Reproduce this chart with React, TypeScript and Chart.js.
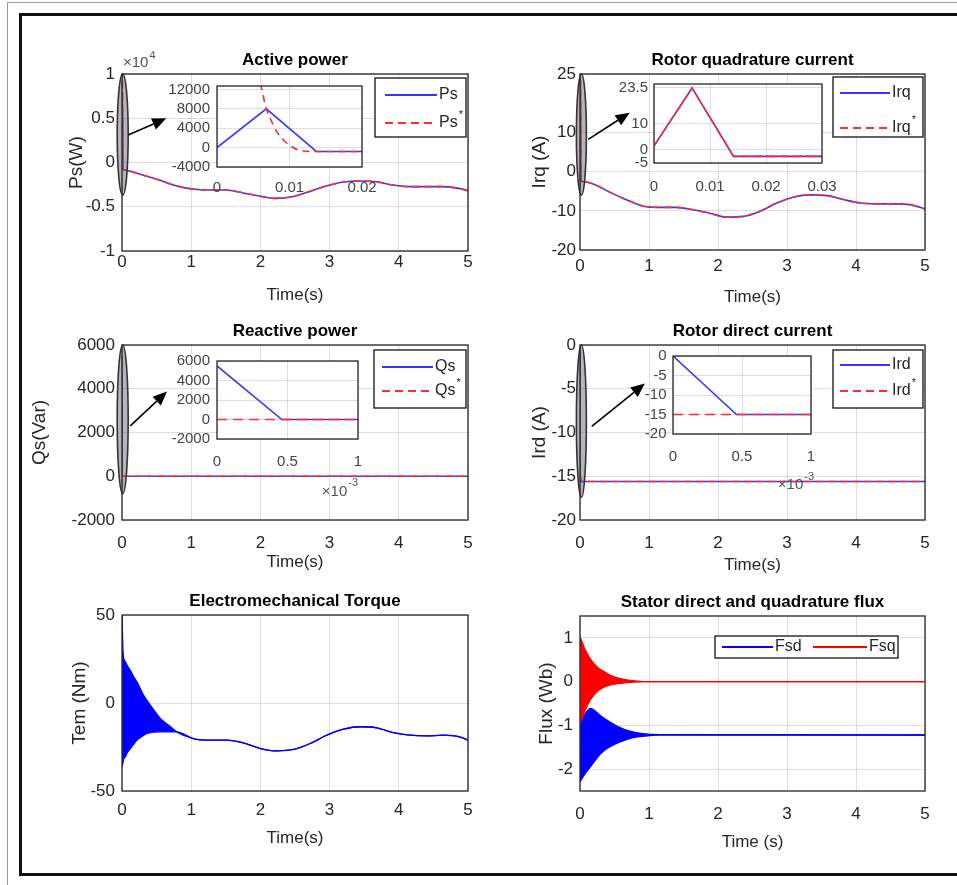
import React, { useEffect, useRef } from "react";
import { Chart, registerables } from "chart.js";

Chart.register(...registerables);

const FONT = "'Liberation Sans', Arial, Helvetica, sans-serif";
Chart.defaults.font.family = FONT;

const BLUE = "rgb(55,55,250)";
const RED = "rgb(255,45,45)";
const BAND_BLUE = "#0000ff";
const BAND_RED = "#ff0000";
const GRID = "rgba(0,0,0,0.13)";
const INK = "#262626";

// ---------- tick labels ----------
const timeTicks = [0, 1, 2, 3, 4, 5];
const psTicks = [-10000, -5000, 0, 5000, 10000];
const irqTicks = [-20, -10, 0, 10, 25];
const qsTicks = [-2000, 0, 2000, 4000, 6000];
const irdTicks = [-20, -15, -10, -5, 0];
const temTicks = [-50, 0, 50];
const fluxTicks = [-2, -1, 0, 1];
const psZoomXTicks = [0, 0.01, 0.02];
const psZoomYTicks = [-4000, 0, 4000, 8000, 12000];
const irqZoomXTicks = [0, 0.01, 0.02, 0.03];
const irqZoomYTicks = [-5, 0, 10, 23.5];
const msXTicks = [0, 0.0005, 0.001];
const qsZoomYTicks = [-2000, 0, 2000, 4000, 6000];
const irdZoomYTicks = [-20, -15, -10, -5, 0];

// ---------- Active power Ps (W) ----------
const psStartT = [0, 0.0068, 0.0137, 0.02];
const psStart = [0, 8000, -800, -800];
const psRefStartT = [0, 0.0055, 0.0061, 0.0068, 0.0075, 0.0082, 0.0095, 0.0113, 0.0137, 0.02];
const psRefStart = [20000, 16000, 12500, 8000, 5500, 3400, 1100, -500, -800, -800];
const psSlowT = [0.05, 0.3, 0.54, 0.78, 1.02, 1.26, 1.5, 1.74, 1.98, 2.22, 2.46, 2.7, 2.95, 3.18, 3.43, 3.67, 3.91, 4.15, 4.39, 4.63, 4.87, 5.0];
const psSlow = [-850, -1410, -1980, -2620, -3000, -3110, -3110, -3410, -3790, -4050, -3860, -3300, -2660, -2240, -2090, -2170, -2540, -2730, -2730, -2730, -2920, -3190];

// ---------- Rotor quadrature current Irq (A) ----------
const irqStartT = [0, 0.0068, 0.0142, 0.03];
const irqStart = [1.5, 23.5, -2.5, -2.5];
const irqRefStart = [1.5, 23.5, -2.5, -2.5];
const irqSlowT = [0.19, 0.43, 0.68, 0.92, 1.16, 1.4, 1.64, 1.88, 2.13, 2.37, 2.61, 2.85, 3.09, 3.33, 3.58, 3.82, 4.06, 4.3, 4.54, 4.78, 5.0];
const irqSlow = [-3.1, -5.2, -7.2, -8.8, -9.1, -9.1, -9.7, -10.6, -11.6, -11.4, -10.1, -8.0, -6.5, -5.9, -6.1, -7.1, -8.0, -8.2, -8.2, -8.4, -9.5];

// ---------- Reactive power Qs (Var) ----------
const qsStartT = [0, 0.00046, 0.001];
const qsStart = [5500, 0, 0];
const qsRefStart = [0, 0, 0];
const qsSlowT = [0.02, 5];
const qsSlow = [0, 0];

// ---------- Rotor direct current Ird (A) ----------
const irdStartT = [0, 0.00046, 0.001];
const irdStart = [0, -15, -15];
const irdRefStart = [-15, -15, -15];
const irdSlowT = [0.02, 5];
const irdSlow = [-15.6, -15.6];

// ---------- Electromechanical torque Tem (Nm) ----------
const temBandT = [0, 0.014, 0.024, 0.048, 0.072, 0.12, 0.168, 0.216, 0.31, 0.36, 0.46, 0.55, 0.7, 0.79];
const temUpper = [50, 30, 25.4, 23.5, 21.6, 18.5, 15.0, 12.0, 4.5, 1.5, -4.0, -8.7, -13.5, -16.4];
const temLower = [-36.3, -34, -32, -30.6, -28.5, -25.9, -23.5, -21.1, -18.5, -17.3, -16.6, -16.4, -16.4, -16.4];
const temT = [1.03, 1.27, 1.51, 1.75, 2.0, 2.24, 2.48, 2.72, 2.96, 3.2, 3.44, 3.68, 3.92, 4.16, 4.4, 4.64, 4.88, 5.0];
const tem = [-20.2, -21.1, -21.1, -22.6, -25.9, -27.2, -26.4, -23.0, -18.3, -14.9, -13.5, -14.1, -16.8, -18.3, -18.7, -18.3, -19.2, -21.1];

// ---------- Stator flux (Wb) ----------
const fluxT = [0, 0.077, 0.15, 0.22, 0.29, 0.39, 0.43, 0.58, 0.72, 0.91, 1.15, 5.0];
const fsqUpper = [1.03, 0.72, 0.52, 0.38, 0.28, 0.19, 0.15, 0.07, 0.03, 0, 0, 0];
const fsqLower = [-0.96, -0.65, -0.42, -0.27, -0.18, -0.1, -0.08, -0.04, -0.02, 0, 0, 0];
const fsdUpper = [-0.96, -0.73, -0.61, -0.67, -0.77, -0.88, -0.92, -1.05, -1.13, -1.19, -1.21, -1.22];
const fsdLower = [-2.29, -2.1, -1.95, -1.8, -1.66, -1.53, -1.49, -1.38, -1.3, -1.25, -1.22, -1.22];

// ---------- helpers ----------
const pts = (t: number[], v: number[]) => t.map((x, i) => ({ x, y: v[i] }));

const solid = (label: string, data: any[], extra: any = {}) => ({
  label, data, borderColor: BLUE, backgroundColor: BLUE, borderWidth: 1.6,
  pointRadius: 0, fill: false, order: 2, ...extra,
});
const dashed = (label: string, data: any[], extra: any = {}) => ({
  label, data, borderColor: RED, backgroundColor: RED, borderWidth: 1.6,
  borderDash: [7, 5], pointRadius: 0, fill: false, order: 1, ...extra,
});
const smooth = { cubicInterpolationMode: "monotone" };

type LegendItem = { label: string; sup?: string; color: string; dash?: number[]; y: number; x0: number; x1: number; tx: number };
type Decor = {
  whiteBg?: boolean;
  ellipse?: { t: number; yMin: number; yMax: number; rx: number };
  arrow?: { from: [number, number]; to: [number, number] };
  legend?: { rOff: number; tOff: number; w: number; h: number; items: LegendItem[] };
  exponent?: { exp: string; corner: "tl" | "br"; dx: number; dy: number; supDy: number };
};

function decorPlugin(d: Decor) {
  return {
    id: "decor",
    beforeDraw(chart: any) {
      if (!d.whiteBg) return;
      const { ctx, chartArea: a } = chart;
      ctx.save();
      ctx.fillStyle = "#fff";
      ctx.fillRect(a.left, a.top, a.right - a.left, a.bottom - a.top);
      ctx.restore();
    },
    afterDatasetsDraw(chart: any) {
      const ctx = chart.ctx;
      const xs = chart.scales.x, ys = chart.scales.y;
      if (d.ellipse) {
        const e = d.ellipse;
        const cx = xs.getPixelForValue(e.t);
        const y1 = ys.getPixelForValue(e.yMax), y2 = ys.getPixelForValue(e.yMin);
        ctx.save();
        ctx.beginPath();
        ctx.ellipse(cx, (y1 + y2) / 2, e.rx, Math.abs(y2 - y1) / 2, 0, 0, Math.PI * 2);
        ctx.fillStyle = "rgba(80,80,80,0.42)";
        ctx.fill();
        ctx.lineWidth = 1.6;
        ctx.strokeStyle = "#333";
        ctx.stroke();
        ctx.restore();
      }
      if (d.arrow) {
        const x0 = xs.getPixelForValue(d.arrow.from[0]), y0 = ys.getPixelForValue(d.arrow.from[1]);
        const x1 = xs.getPixelForValue(d.arrow.to[0]), y1 = ys.getPixelForValue(d.arrow.to[1]);
        const ang = Math.atan2(y1 - y0, x1 - x0);
        const hl = 14, hw = 6;
        const bx = x1 - hl * Math.cos(ang), by = y1 - hl * Math.sin(ang);
        ctx.save();
        ctx.strokeStyle = "#000";
        ctx.fillStyle = "#000";
        ctx.lineWidth = 1.6;
        ctx.beginPath();
        ctx.moveTo(x0, y0);
        ctx.lineTo(bx, by);
        ctx.stroke();
        ctx.beginPath();
        ctx.moveTo(x1, y1);
        ctx.lineTo(bx + hw * Math.sin(ang), by - hw * Math.cos(ang));
        ctx.lineTo(bx - hw * Math.sin(ang), by + hw * Math.cos(ang));
        ctx.closePath();
        ctx.fill();
        ctx.restore();
      }
    },
    afterDraw(chart: any) {
      const { ctx, chartArea: a } = chart;
      ctx.save();
      ctx.strokeStyle = INK;
      ctx.lineWidth = 1.3;
      ctx.strokeRect(a.left, a.top, a.right - a.left, a.bottom - a.top);
      ctx.restore();
      if (d.legend) {
        const L = d.legend;
        const bx = a.right - L.rOff - L.w, by = a.top + L.tOff;
        ctx.save();
        ctx.fillStyle = "#fff";
        ctx.fillRect(bx, by, L.w, L.h);
        ctx.strokeStyle = "#111";
        ctx.lineWidth = 1.3;
        ctx.strokeRect(bx, by, L.w, L.h);
        for (const it of L.items) {
          ctx.beginPath();
          ctx.setLineDash(it.dash || []);
          ctx.strokeStyle = it.color;
          ctx.lineWidth = 2;
          ctx.moveTo(bx + it.x0, by + it.y);
          ctx.lineTo(bx + it.x1, by + it.y);
          ctx.stroke();
          ctx.setLineDash([]);
          ctx.fillStyle = INK;
          ctx.font = `16px ${FONT}`;
          ctx.textBaseline = "middle";
          ctx.textAlign = "left";
          ctx.fillText(it.label, bx + it.tx, by + it.y);
          if (it.sup) {
            const w = ctx.measureText(it.label).width;
            ctx.font = `11px ${FONT}`;
            ctx.fillText(it.sup, bx + it.tx + w + 1, by + it.y - 8);
          }
        }
        ctx.restore();
      }
      if (d.exponent) {
        const e = d.exponent;
        ctx.save();
        ctx.fillStyle = "#555";
        ctx.textBaseline = "middle";
        ctx.textAlign = "left";
        ctx.font = `15px ${FONT}`;
        const base = "\u00d710";
        const wb = ctx.measureText(base).width;
        ctx.font = `11px ${FONT}`;
        const ws = ctx.measureText(e.exp).width;
        let x: number, y0: number;
        if (e.corner === "tl") { x = a.left + e.dx; y0 = a.top; }
        else { x = a.right + e.dx - (wb + 1 + ws); y0 = a.bottom; }
        ctx.font = `15px ${FONT}`;
        ctx.fillText(base, x, y0 + e.dy);
        ctx.font = `11px ${FONT}`;
        ctx.fillText(e.exp, x + wb + 1, y0 + e.supDy);
        ctx.restore();
      }
    },
  };
}

type Spec = {
  L: number; T: number; R: number; B: number; W: number; H: number; pt: number; rp: number;
  title?: string; xTitle?: string; yTitle?: string;
  xMin: number; xMax: number; xTicks: number[]; xFmt?: (v: number) => string;
  yMin: number; yMax: number; yTicks: number[]; yFmt?: (v: number) => string;
  tickSize: number; xPad: number; yPad: number; tickColor: string;
  datasets: any[]; decor: Decor;
};

function build(s: Spec) {
  const titleH = s.title ? 22 : 0;
  const geom = {
    x: s.L - s.W,
    y: s.T - s.pt - titleH,
    w: s.W + (s.R - s.L) + s.rp,
    h: s.pt + titleH + (s.B - s.T) + s.H,
  };
  const tickFont = { size: s.tickSize, family: FONT, lineHeight: 1 };
  const config: any = {
    type: "line",
    data: { datasets: s.datasets },
    options: {
      responsive: false,
      animation: false,
      events: [],
      layout: { padding: { top: s.pt, right: s.rp, bottom: 0, left: 0 } },
      plugins: {
        legend: { display: false },
        tooltip: { enabled: false },
        title: s.title
          ? { display: true, text: s.title, fullSize: false, color: "#000", font: { size: 17, weight: "bold", family: FONT, lineHeight: 1 }, padding: { top: 0, bottom: 5 } }
          : { display: false },
      },
      scales: {
        x: {
          type: "linear", min: s.xMin, max: s.xMax,
          afterBuildTicks: (sc: any) => { sc.ticks = s.xTicks.map((v) => ({ value: v })); },
          afterFit: (sc: any) => { sc.height = s.H; },
          ticks: {
            autoSkip: false, maxRotation: 0, minRotation: 0, padding: s.xPad, color: s.tickColor, font: tickFont,
            callback: (v: any) => (s.xFmt ? s.xFmt(Number(v)) : String(v)),
          },
          grid: { color: GRID, drawTicks: false, lineWidth: 1 },
          border: { display: false },
          title: s.xTitle
            ? { display: true, text: s.xTitle, color: INK, font: { size: 17, family: FONT, lineHeight: 1 }, padding: 0 }
            : { display: false },
        },
        y: {
          type: "linear", min: s.yMin, max: s.yMax,
          afterBuildTicks: (sc: any) => { sc.ticks = s.yTicks.map((v) => ({ value: v })); },
          afterFit: (sc: any) => { sc.width = s.W; },
          ticks: {
            autoSkip: false, padding: s.yPad, color: s.tickColor, font: tickFont,
            callback: (v: any) => (s.yFmt ? s.yFmt(Number(v)) : String(v)),
          },
          grid: { color: GRID, drawTicks: false, lineWidth: 1 },
          border: { display: false },
          title: s.yTitle
            ? { display: true, text: s.yTitle, color: INK, font: { size: 19, family: FONT, lineHeight: 1 }, padding: 0 }
            : { display: false },
        },
      },
    },
    plugins: [decorPlugin(s.decor)],
  };
  return { geom, config };
}

const mainBase = { pt: 4, rp: 45, tickSize: 17, tickColor: INK, xMin: 0, xMax: 5, xTicks: timeTicks, xTitle: "Time(s)" };
const insetBase = { pt: 24, rp: 45, tickSize: 15, tickColor: "#444" };
const msFmt = (v: number) => String(Math.round(v * 10000) / 10);

const specs: Spec[] = [
  // Active power
  {
    ...mainBase, L: 122, T: 74, R: 468, B: 251, W: 55, H: 53, xPad: 3, yPad: 7,
    title: "Active power", yTitle: "Ps(W)",
    yMin: -10000, yMax: 10000, yTicks: psTicks, yFmt: (v) => String(v / 10000),
    datasets: [
      solid("Ps", pts([...psStartT, ...psSlowT], [...psStart, ...psSlow]), smooth),
      dashed("Ps*", pts([...psRefStartT, ...psSlowT], [...psRefStart, ...psSlow]), smooth),
    ],
    decor: {
      ellipse: { t: 0.01, yMin: -3700, yMax: 10000, rx: 5.5 },
      arrow: { from: [0.09, 3100], to: [0.64, 5000] },
      exponent: { exp: "4", corner: "tl", dx: 1, dy: -11.5, supDy: -18 },
      legend: {
        rOff: 2, tOff: 4, w: 91, h: 59,
        items: [
          { label: "Ps", color: BLUE, y: 17, x0: 10, x1: 62, tx: 64 },
          { label: "Ps", sup: "*", color: RED, dash: [8, 5], y: 45, x0: 10, x1: 62, tx: 64 },
        ],
      },
    },
  },
  // Rotor quadrature current
  {
    ...mainBase, L: 580, T: 74, R: 925, B: 250, W: 50, H: 56, xPad: 8, yPad: 4,
    title: "Rotor quadrature current", yTitle: "Irq (A)",
    yMin: -20, yMax: 25, yTicks: irqTicks,
    datasets: [
      solid("Irq", pts([...irqStartT, ...irqSlowT], [...irqStart, ...irqSlow]), smooth),
      dashed("Irq*", pts([...irqStartT, ...irqSlowT], [...irqRefStart, ...irqSlow]), smooth),
    ],
    decor: {
      ellipse: { t: 0.02, yMin: -6, yMax: 25, rx: 5 },
      arrow: { from: [0.12, 8.3], to: [0.72, 15.1] },
      legend: {
        rOff: 2, tOff: 3, w: 90, h: 60,
        items: [
          { label: "Irq", color: BLUE, y: 16, x0: 7, x1: 57, tx: 59 },
          { label: "Irq", sup: "*", color: RED, dash: [8, 5], y: 51, x0: 7, x1: 57, tx: 59 },
        ],
      },
    },
  },
  // Reactive power
  {
    ...mainBase, L: 122, T: 345, R: 468, B: 520, W: 92, H: 51, xPad: 14.5, yPad: 7,
    title: "Reactive power", yTitle: "Qs(Var)",
    yMin: -2000, yMax: 6000, yTicks: qsTicks,
    datasets: [
      solid("Qs", pts([...qsStartT, ...qsSlowT], [...qsStart, ...qsSlow])),
      dashed("Qs*", pts([...qsStartT, ...qsSlowT], [...qsRefStart, ...qsSlow])),
    ],
    decor: {
      ellipse: { t: 0.01, yMin: -800, yMax: 6000, rx: 5.5 },
      arrow: { from: [0.12, 2300], to: [0.65, 3870] },
      legend: {
        rOff: 2, tOff: 5, w: 92, h: 58,
        items: [
          { label: "Qs", color: BLUE, y: 17, x0: 8, x1: 59, tx: 61 },
          { label: "Qs", sup: "*", color: RED, dash: [8, 5], y: 41, x0: 8, x1: 59, tx: 61 },
        ],
      },
    },
  },
  // Rotor direct current
  {
    ...mainBase, L: 580, T: 345, R: 925, B: 520, W: 50, H: 54, xPad: 14.5, yPad: 4,
    title: "Rotor direct current", yTitle: "Ird (A)",
    yMin: -20, yMax: 0, yTicks: irdTicks,
    datasets: [
      solid("Ird", pts([...irdStartT, ...irdSlowT], [...irdStart, ...irdSlow])),
      dashed("Ird*", pts([...irdStartT, ...irdSlowT], [...irdRefStart, ...irdSlow])),
    ],
    decor: {
      ellipse: { t: 0.02, yMin: -17.4, yMax: 0, rx: 5 },
      arrow: { from: [0.17, -9.3], to: [0.94, -4.4] },
      legend: {
        rOff: 2, tOff: 5, w: 90, h: 58,
        items: [
          { label: "Ird", color: BLUE, y: 15, x0: 7, x1: 57, tx: 59 },
          { label: "Ird", sup: "*", color: RED, dash: [8, 5], y: 41, x0: 7, x1: 57, tx: 59 },
        ],
      },
    },
  },
  // Electromechanical torque
  {
    ...mainBase, L: 122, T: 615, R: 468, B: 791, W: 52, H: 56, xPad: 11, yPad: 7,
    title: "Electromechanical Torque", yTitle: "Tem (Nm)",
    yMin: -50, yMax: 50, yTicks: temTicks,
    datasets: [
      solid("Tem", pts([...temBandT, ...temT], [...temUpper, ...tem]), { ...smooth, borderColor: BAND_BLUE, backgroundColor: BAND_BLUE, borderWidth: 1.3, fill: "+1", order: 1 }),
      solid("Tem lower", pts([...temBandT, ...temT], [...temLower, ...tem]), { ...smooth, borderColor: BAND_BLUE, backgroundColor: BAND_BLUE, borderWidth: 1.3, order: 2 }),
    ],
    decor: {},
  },
  // Stator direct and quadrature flux
  {
    ...mainBase, L: 580, T: 616, R: 925, B: 791, W: 43, H: 60, xPad: 14.5, yPad: 7,
    title: "Stator direct and quadrature flux", xTitle: "Time (s)", yTitle: "Flux (Wb)",
    yMin: -2.5, yMax: 1.5, yTicks: fluxTicks,
    datasets: [
      solid("Fsq", pts(fluxT, fsqUpper), { ...smooth, borderColor: BAND_RED, backgroundColor: BAND_RED, borderWidth: 1.3, fill: "+1", order: 1 }),
      solid("Fsq lower", pts(fluxT, fsqLower), { ...smooth, borderColor: BAND_RED, backgroundColor: BAND_RED, borderWidth: 1.3, order: 2 }),
      solid("Fsd", pts(fluxT, fsdUpper), { ...smooth, borderColor: BAND_BLUE, backgroundColor: BAND_BLUE, borderWidth: 1.3, fill: "+1", order: 3 }),
      solid("Fsd lower", pts(fluxT, fsdLower), { ...smooth, borderColor: BAND_BLUE, backgroundColor: BAND_BLUE, borderWidth: 1.3, order: 4 }),
    ],
    decor: {
      legend: {
        rOff: 27, tOff: 20, w: 183, h: 22,
        items: [
          { label: "Fsd", color: BAND_BLUE, y: 11, x0: 7, x1: 58, tx: 60 },
          { label: "Fsq", color: BAND_RED, y: 11, x0: 98, x1: 152, tx: 154 },
        ],
      },
    },
  },
  // Inset: active power
  {
    ...insetBase, L: 217, T: 86, R: 362, B: 167, W: 52, H: 36, xPad: 13.5, yPad: 7,
    xMin: 0, xMax: 0.02, xTicks: psZoomXTicks,
    yMin: -4000, yMax: 12700, yTicks: psZoomYTicks,
    datasets: [
      solid("Ps", pts(psStartT, psStart)),
      dashed("Ps*", pts(psRefStartT, psRefStart), smooth),
    ],
    decor: { whiteBg: true },
  },
  // Inset: rotor quadrature current
  {
    ...insetBase, L: 654, T: 84, R: 822, B: 163, W: 42, H: 36, xPad: 16, yPad: 6,
    xMin: 0, xMax: 0.03, xTicks: irqZoomXTicks,
    yMin: -5, yMax: 25, yTicks: irqZoomYTicks,
    datasets: [
      solid("Irq", pts(irqStartT, irqStart)),
      dashed("Irq*", pts(irqStartT, irqRefStart), { borderDash: [10, 3] }),
    ],
    decor: { whiteBg: true },
  },
  // Inset: reactive power
  {
    ...insetBase, L: 217, T: 361, R: 358, B: 439, W: 52, H: 64, xPad: 15, yPad: 7,
    xMin: 0, xMax: 0.001, xTicks: msXTicks, xFmt: msFmt,
    yMin: -2000, yMax: 6000, yTicks: qsZoomYTicks,
    datasets: [
      solid("Qs", pts(qsStartT, qsStart)),
      dashed("Qs*", pts(qsStartT, qsRefStart), { borderDash: [10, 6] }),
    ],
    decor: { whiteBg: true, exponent: { exp: "-3", corner: "br", dx: 0, dy: 53, supDy: 44 } },
  },
  // Inset: rotor direct current
  {
    ...insetBase, L: 673, T: 356, R: 811, B: 434, W: 42, H: 64, xPad: 15, yPad: 6.5,
    xMin: 0, xMax: 0.001, xTicks: msXTicks, xFmt: msFmt,
    yMin: -20, yMax: 0, yTicks: irdZoomYTicks,
    datasets: [
      solid("Ird", pts(irdStartT, irdStart)),
      dashed("Ird*", pts(irdStartT, irdRefStart), { borderDash: [10, 6] }),
    ],
    decor: { whiteBg: true, exponent: { exp: "-3", corner: "br", dx: 3, dy: 51, supDy: 43 } },
  },
];

function ChartCanvas({ spec }: { spec: Spec }) {
  const ref = useRef<HTMLCanvasElement>(null);
  const { geom } = build(spec);
  useEffect(() => {
    const chart = new Chart(ref.current as HTMLCanvasElement, build(spec).config);
    return () => chart.destroy();
  }, []);
  return (
    <canvas
      ref={ref}
      width={geom.w}
      height={geom.h}
      style={{ position: "absolute", left: geom.x, top: geom.y, width: geom.w, height: geom.h }}
    />
  );
}

export default function App() {
  return (
    <div style={{ position: "absolute", left: 0, top: 0, width: 957, height: 885, overflow: "hidden", background: "#fff" }}>
      <div style={{ position: "absolute", left: 7, top: 2, width: 1000, height: 1000, border: "1px solid #9a9a9a" }} />
      <div style={{ position: "absolute", left: 19, top: 13, width: 1000, height: 863, boxSizing: "border-box", border: "3px solid #111" }} />
      {specs.map((s, i) => (
        <ChartCanvas key={i} spec={s} />
      ))}
    </div>
  );
}
